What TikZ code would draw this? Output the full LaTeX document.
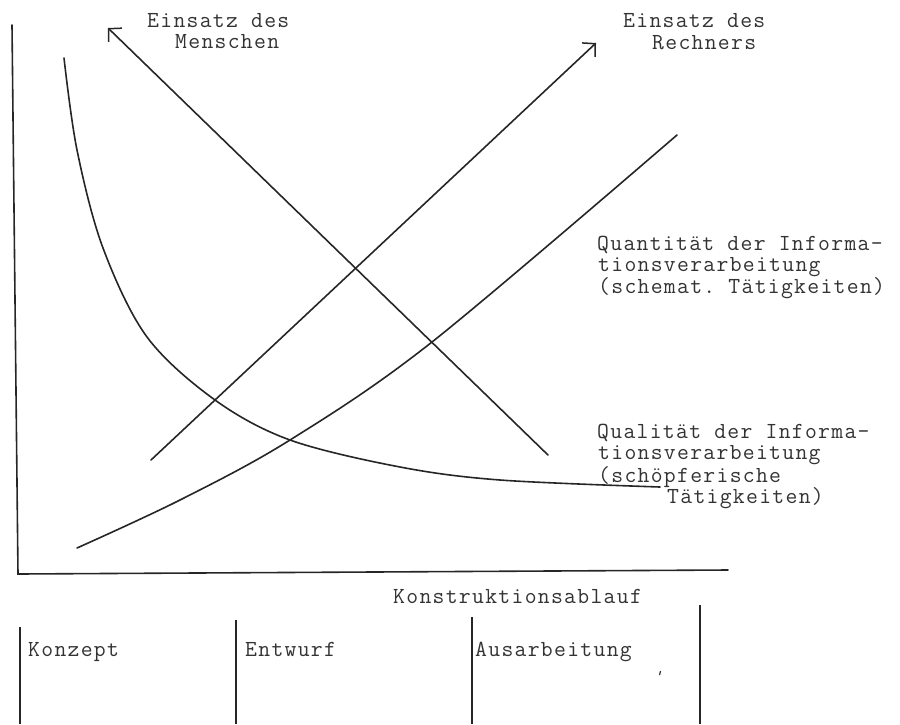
\documentclass[tikz,border=0pt]{standalone}
\usepackage{fontspec}
\setmonofont[LetterSpace=5.7]{Latin Modern Mono}
\usetikzlibrary{arrows.meta}
\begin{document}
\begin{tikzpicture}[x=1pt,y=-1pt,
  curve/.style={draw=black!85, line width=1.6pt, line cap=round},
  barb/.style={-{Straight Barb[length=9pt,width=19pt,line width=1.5pt]}},
  lbl/.style={anchor=base west, inner sep=0pt, text=black!80,
    font=\ttfamily\fontsize{23}{21.5}\selectfont},
  phase/.style={draw=black!85, line width=1.4pt}]
\useasboundingbox (0,0) rectangle (900,724);

% axes
\coordinate (ytop) at (12,25);
\coordinate (origin) at (18,574);
\coordinate (xend) at (728,570);
\draw[curve] (ytop) -- (origin) -- (xend);

% Einsatz des Menschen (falling arrow)
\coordinate (mlow) at (548,455);
\coordinate (mtip) at (108,28);
\draw[curve, barb] (mlow) -- (mtip);

% Einsatz des Rechners (rising arrow)
\coordinate (rlow) at (151,460);
\coordinate (rtip) at (596,43);
\draw[curve, barb] (rlow) -- (rtip);

% Qualitaet der Informationsverarbeitung (falling curve)
\draw[curve] plot[smooth, tension=0.55] coordinates {
  (64,58) (77,150) (103,248) (147,337) (215,400) (290,440)
  (400,467) (500,480) (660,487)};

% Quantitaet der Informationsverarbeitung (rising curve)
\draw[curve] plot[smooth, tension=0.55] coordinates {
  (77,548) (180,500) (290,440) (432,342) (677,135)};

% labels of the arrows
\node[lbl] (m1) at (147,27) {Einsatz des};
\node[lbl] (m2) at (175,48) {Menschen};
\node[lbl] (r1) at (623,27) {Einsatz des};
\node[lbl] (r2) at (652,49) {Rechners};

% labels of the curves
\node[lbl] (qn1) at (597,250) {Quantität der Informa-};
\node[lbl] (qn2) at (598,271) {tionsverarbeitung};
\node[lbl] (qn3) at (598,293) {(schemat. Tätigkeiten)};
\node[lbl] (ql1) at (597,438) {Qualität der Informa-};
\node[lbl] (ql2) at (598,459) {tionsverarbeitung};
\node[lbl] (ql3) at (598,482) {(schöpferische};
\node[lbl] (ql4) at (667,503) {Tätigkeiten)};

% phases of the design process
\node[lbl] (ablauf) at (393,603) {Konstruktionsablauf};
\draw[phase] (20,627) -- (20,724);
\draw[phase] (236,620) -- (236,724);
\draw[phase] (472,617) -- (472,724);
\draw[phase] (700,605) -- (700,724);
\node[lbl] (konzept) at (28,656) {Konzept};
\node[lbl] (entwurf) at (245,656) {Entwurf};
\node[lbl] (ausarb) at (475,656) {Ausarbeitung};
\draw[black!80, line width=1.2pt] (660.5,671) -- (659.5,675);
\end{tikzpicture}
\end{document}
